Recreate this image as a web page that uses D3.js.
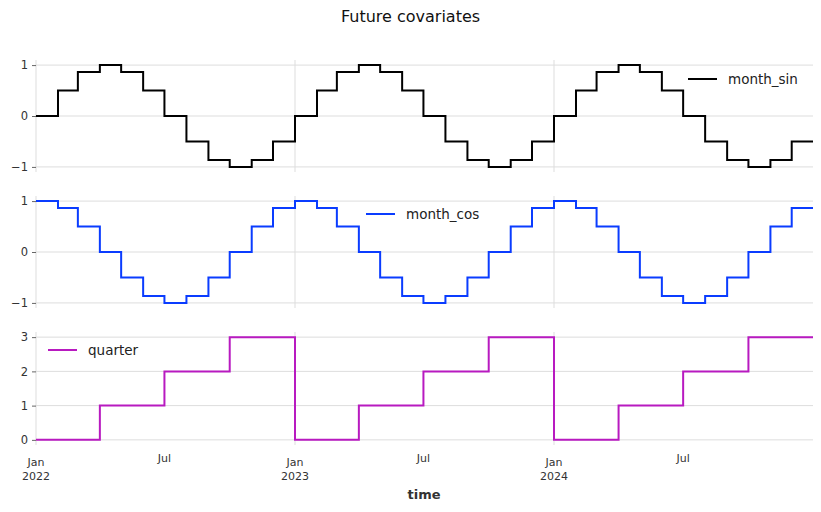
<!DOCTYPE html>
<html>
<head>
<meta charset="utf-8">
<script src="https://cdn.jsdelivr.net/npm/d3@7"></script>
<style>
  body { margin: 0; background: #fff; }
  svg { display: block; font-family: "DejaVu Sans", sans-serif; }
</style>
</head>
<body>
<svg id="chart" width="821" height="512"></svg>
<script>
// Month starts (data is constant within each month)
const months = [
  "2022-01","2022-02","2022-03","2022-04","2022-05","2022-06","2022-07","2022-08","2022-09","2022-10","2022-11","2022-12",
  "2023-01","2023-02","2023-03","2023-04","2023-05","2023-06","2023-07","2023-08","2023-09","2023-10","2023-11","2023-12",
  "2024-01","2024-02","2024-03","2024-04","2024-05","2024-06","2024-07","2024-08","2024-09","2024-10","2024-11","2024-12"
];
const endDate = "2024-12-31";

const monthSin = [
  0, 0.5, 0.866, 1, 0.866, 0.5, 0, -0.5, -0.866, -1, -0.866, -0.5,
  0, 0.5, 0.866, 1, 0.866, 0.5, 0, -0.5, -0.866, -1, -0.866, -0.5,
  0, 0.5, 0.866, 1, 0.866, 0.5, 0, -0.5, -0.866, -1, -0.866, -0.5
];
const monthCos = [
  1, 0.866, 0.5, 0, -0.5, -0.866, -1, -0.866, -0.5, 0, 0.5, 0.866,
  1, 0.866, 0.5, 0, -0.5, -0.866, -1, -0.866, -0.5, 0, 0.5, 0.866,
  1, 0.866, 0.5, 0, -0.5, -0.866, -1, -0.866, -0.5, 0, 0.5, 0.866
];
const quarter = [
  0, 0, 0, 1, 1, 1, 2, 2, 2, 3, 3, 3,
  0, 0, 0, 1, 1, 1, 2, 2, 2, 3, 3, 3,
  0, 0, 0, 1, 1, 1, 2, 2, 2, 3, 3, 3
];

const seriesNames = ["month_sin", "month_cos", "quarter"];
const seriesColors = ["#000000", "#0a3cff", "#b81ac0"];
const yTicksList = [[-1, 0, 1], [-1, 0, 1], [0, 1, 2, 3]];
const yDomains = [[-1.1, 1.1], [-1.1, 1.1], [-0.15, 3.15]];
const majorTicks = ["2022-01-01", "2023-01-01", "2024-01-01"];
const majorLabels = [["Jan", "2022"], ["Jan", "2023"], ["Jan", "2024"]];
const minorTicks = ["2022-07-01", "2023-07-01", "2024-07-01"];
const minorLabels = ["Jul", "Jul", "Jul"];
const titleText = "Future covariates";
const xLabel = "time";

const parseM = d3.timeParse("%Y-%m");
const parseD = d3.timeParse("%Y-%m-%d");

const svg = d3.select("#chart");
const left = 36, right = 813;
const panels = [
  { top: 60, bottom: 172, legend: { x: 688, y: 79 } },
  { top: 196, bottom: 308, legend: { x: 366, y: 214 } },
  { top: 332, bottom: 445, legend: { x: 48, y: 350 } }
];

const x = d3.scaleTime()
  .domain([parseD("2022-01-01"), parseD(endDate)])
  .range([left, right]);

const allValues = [monthSin, monthCos, quarter];

svg.append("text")
  .attr("x", 410.5).attr("y", 22)
  .attr("text-anchor", "middle")
  .attr("font-size", 16)
  .attr("fill", "#111")
  .text(titleText);

panels.forEach((p, i) => {
  const y = d3.scaleLinear().domain(yDomains[i]).range([p.bottom, p.top]);
  const g = svg.append("g");

  // horizontal grid
  g.selectAll(".hg").data(yTicksList[i]).join("line")
    .attr("x1", left).attr("x2", right)
    .attr("y1", d => y(d)).attr("y2", d => y(d))
    .attr("stroke", "#dddddd").attr("stroke-width", 1);
  // vertical grid at major ticks
  g.selectAll(".vg").data(majorTicks).join("line")
    .attr("x1", d => x(parseD(d))).attr("x2", d => x(parseD(d)))
    .attr("y1", p.top).attr("y2", p.bottom)
    .attr("stroke", "#dddddd").attr("stroke-width", 1);

  // y axis
  const yAxis = d3.axisLeft(y).tickValues(yTicksList[i])
    .tickSize(4).tickPadding(4)
    .tickFormat(d => d < 0 ? "\u2212" + Math.abs(d) : String(d));
  const ya = g.append("g").attr("transform", `translate(${left},0)`).call(yAxis);
  ya.select(".domain").remove();
  ya.selectAll(".tick line").attr("stroke", "#666");
  ya.selectAll(".tick text").attr("font-size", 11.5).attr("fill", "#333")
    .attr("font-family", "DejaVu Sans");

  // line
  const vals = allValues[i];
  const pts = months.map((m, k) => ({ d: parseM(m), v: vals[k] }));
  pts.push({ d: parseD(endDate), v: vals[vals.length - 1] });
  const line = d3.line().x(d => x(d.d)).y(d => y(d.v)).curve(d3.curveStepAfter);
  g.append("path").datum(pts)
    .attr("d", line)
    .attr("fill", "none")
    .attr("stroke", seriesColors[i])
    .attr("stroke-width", 2)
    .attr("stroke-linejoin", "miter");

  // legend
  g.append("line")
    .attr("x1", p.legend.x).attr("x2", p.legend.x + 29)
    .attr("y1", p.legend.y).attr("y2", p.legend.y)
    .attr("stroke", seriesColors[i]).attr("stroke-width", 2);
  g.append("text")
    .attr("x", p.legend.x + 40).attr("y", p.legend.y)
    .attr("dy", "0.35em")
    .attr("font-size", 13.5).attr("fill", "#222")
    .text(seriesNames[i]);
});

// x tick labels under last panel
const xl = svg.append("g");
majorTicks.forEach((t, k) => {
  const tx = x(parseD(t));
  const txt = xl.append("text")
    .attr("x", tx).attr("text-anchor", "middle")
    .attr("font-size", 11).attr("fill", "#333");
  txt.append("tspan").attr("x", tx).attr("y", 466).text(majorLabels[k][0]);
  txt.append("tspan").attr("x", tx).attr("y", 480).text(majorLabels[k][1]);
});
minorTicks.forEach((t, k) => {
  xl.append("text")
    .attr("x", x(parseD(t))).attr("y", 462)
    .attr("text-anchor", "middle")
    .attr("font-size", 11).attr("fill", "#333")
    .text(minorLabels[k]);
});

svg.append("text")
  .attr("x", 424).attr("y", 499)
  .attr("text-anchor", "middle")
  .attr("font-size", 13).attr("font-weight", "bold")
  .attr("fill", "#333")
  .text(xLabel);
</script>
</body>
</html>
